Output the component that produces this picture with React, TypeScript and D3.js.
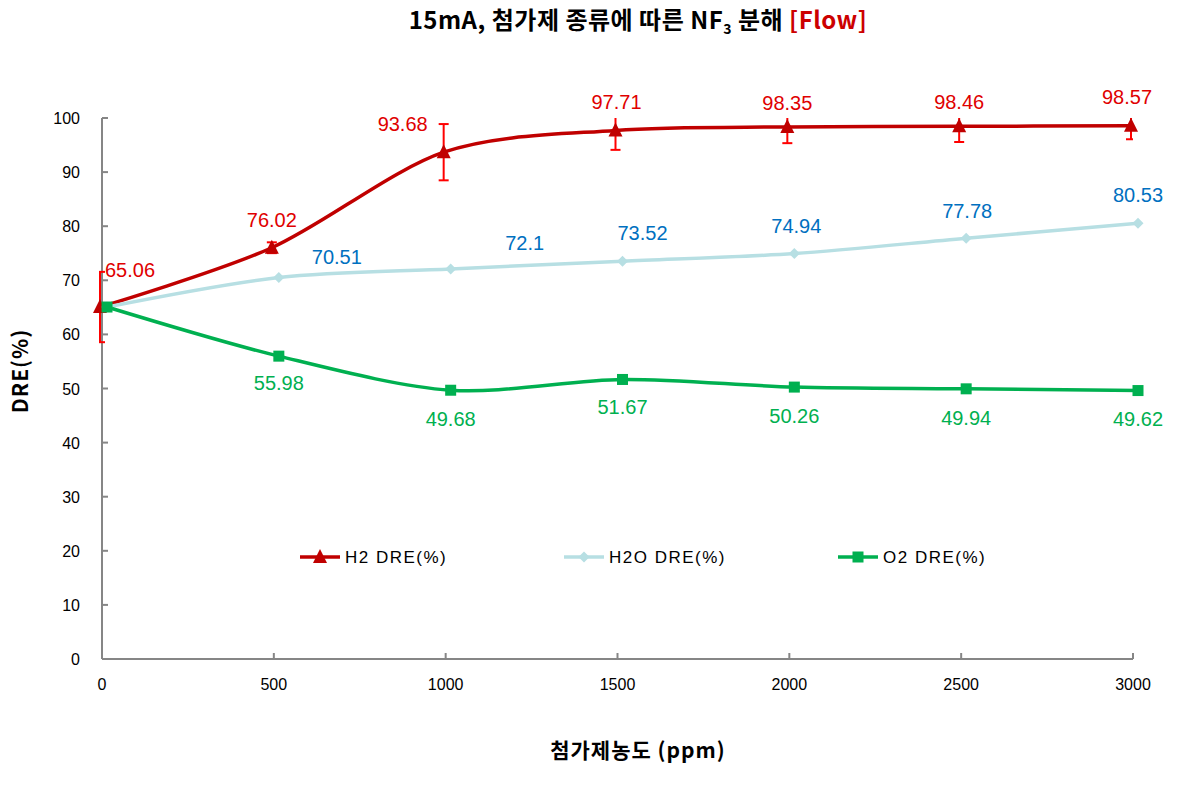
import React from "react";
import * as d3 from "d3";

// ---- data ----
const xValues = [0, 500, 1000, 1500, 2000, 2500, 3000];
const h2Values = [65.06, 76.02, 93.68, 97.71, 98.35, 98.46, 98.57];
const h2Errors = [6.5, 1.0, 5.2, 3.6, 3.0, 2.9, 2.5];
const h2oValues = [65.06, 70.51, 72.1, 73.52, 74.94, 77.78, 80.53];
const o2Values = [65.06, 55.98, 49.68, 51.67, 50.26, 49.94, 49.62];
const xTicks = [0, 500, 1000, 1500, 2000, 2500, 3000];
const yTicks = [0, 10, 20, 30, 40, 50, 60, 70, 80, 90, 100];
const seriesNames = ["H2 DRE(%)", "H2O DRE(%)", "O2 DRE(%)"];

// ---- layout / style ----
const W = 1188, H = 786;
const L = 102, R = 1133, T = 118, B = 659;
const FONT = "'Liberation Sans', 'DejaVu Sans', 'Noto Sans CJK KR', sans-serif";
const KFONT = "'Noto Sans CJK KR', 'Liberation Sans', sans-serif";

const h2LabelOff: [number, number][] = [[30, -37], [0, -28], [-41, -28], [1, -28], [0, -24], [0, -24], [-4, -29]];
const h2oLabelOff: [number, number][] = [[0, 0], [58, -21], [74, -26], [20, -28], [2, -28], [1, -27], [0, -28]];
const o2LabelOff: [number, number][] = [[0, 0], [0, 27], [0, 29], [0, 28], [0, 29], [0, 29], [0, 28]];

export default function App() {
  const x = d3.scaleLinear().domain([0, 3000]).range([L, R]);
  const y = d3.scaleLinear().domain([0, 100]).range([B, T]);
  const curve = d3.curveCardinal.tension(0.1);

  const mk = (vals: number[], dx: number) =>
    d3.line<number>().x((_, i) => x(xValues[i]) + dx).y((v) => y(v)).curve(curve)(vals) || "";

  const series = [
    { name: seriesNames[0], vals: h2Values, dx: -2, color: "#C00000", label: "#E00000", off: h2LabelOff, marker: "tri", skipFirstLabel: false },
    { name: seriesNames[1], vals: h2oValues, dx: 5, color: "#B7DFE3", label: "#0070C0", off: h2oLabelOff, marker: "dia", skipFirstLabel: true },
    { name: seriesNames[2], vals: o2Values, dx: 5, color: "#00B050", label: "#00B050", off: o2LabelOff, marker: "sq", skipFirstLabel: true },
  ];

  const marker = (type: string, cx: number, cy: number, color: string, key: any) => {
    if (type === "tri") {
      const s = 7;
      return <path key={key} d={`M${cx},${cy - s - 1}L${cx + s},${cy + s - 1}L${cx - s},${cy + s - 1}Z`} fill={color} />;
    }
    if (type === "dia") {
      const s = 5.5;
      return <path key={key} d={`M${cx},${cy - s}L${cx + s},${cy}L${cx},${cy + s}L${cx - s},${cy}Z`} fill={color} />;
    }
    const s = 5.5;
    return <rect key={key} x={cx - s} y={cy - s} width={2 * s} height={2 * s} fill={color} />;
  };

  const legendX = [300, 564, 838];
  const legendY = 557;

  return (
    <svg width={W} height={H} style={{ position: "absolute", left: 0, top: 0, background: "#fff" }} fontFamily={FONT}>
      <defs>
        <clipPath id="plot">
          <rect x={L - 3} y={T} width={R - L + 3} height={B - T} />
        </clipPath>
      </defs>

      {/* title */}
      <text x={638} y={29} textAnchor="middle" fontFamily={KFONT} fontWeight="bold" fontSize={24} fill="#000" letterSpacing={0.5}>
        15mA, 첨가제 종류에 따른 NF<tspan fontSize={14} dy={5}>3</tspan>
        <tspan dy={-5}> 분해 </tspan>
        <tspan fill="#CC0000">[Flow]</tspan>
      </text>

      {/* axes */}
      <line x1={L} y1={T} x2={L} y2={B} stroke="#868686" strokeWidth={2} />
      <line x1={L} y1={B} x2={R} y2={B} stroke="#868686" strokeWidth={2} />
      {yTicks.map((t) => (
        <g key={"y" + t}>
          <line x1={L} x2={L + 6} y1={y(t)} y2={y(t)} stroke="#868686" strokeWidth={2} />
          <text x={80} y={y(t) + 6} textAnchor="end" fontSize={16} fill="#000">{t}</text>
        </g>
      ))}
      {xTicks.map((t) => (
        <g key={"x" + t}>
          <line x1={x(t)} x2={x(t)} y1={B} y2={B - 6} stroke="#868686" strokeWidth={2} />
          <text x={x(t)} y={690} textAnchor="middle" fontSize={16} fill="#000">{t}</text>
        </g>
      ))}

      {/* axis titles */}
      <text transform={`translate(28,371) rotate(-90)`} textAnchor="middle" fontWeight="bold" fontSize={21} fontFamily={KFONT} letterSpacing={1}>DRE(%)</text>
      <text x={638} y={758} textAnchor="middle" fontWeight="bold" fontSize={21} fontFamily={KFONT} letterSpacing={1}>첨가제농도 (ppm)</text>

      {/* lines */}
      {series.map((s) => (
        <path key={s.name} d={mk(s.vals, s.dx)} fill="none" stroke={s.color} strokeWidth={3.5} />
      ))}

      {/* error bars */}
      <g clipPath="url(#plot)" stroke="#FF0000" strokeWidth={2}>
        {h2Values.map((v, i) => {
          const cx = x(xValues[i]) + series[0].dx;
          const y1 = y(v + h2Errors[i]);
          const y2 = y(v - h2Errors[i]);
          return (
            <g key={"e" + i}>
              <line x1={cx} x2={cx} y1={y1} y2={y2} />
              <line x1={cx - 5} x2={cx + 5} y1={y1} y2={y1} />
              <line x1={cx - 5} x2={cx + 5} y1={y2} y2={y2} />
            </g>
          );
        })}
      </g>

      {/* markers */}
      {series.map((s) => s.vals.map((v, i) => marker(s.marker, x(xValues[i]) + s.dx, y(v), s.color, s.name + i)))}

      {/* data labels */}
      {series.map((s) =>
        s.vals.map((v, i) => {
          if (i === 0 && s.skipFirstLabel) return null;
          const cx = x(xValues[i]) + s.dx + s.off[i][0];
          const cy = y(v) + s.off[i][1];
          return (
            <text key={"l" + s.name + i} x={cx} y={cy + 7} textAnchor="middle" fontSize={20} fill={s.label}>
              {String(v)}
            </text>
          );
        })
      )}

      {/* legend */}
      {series.map((s, k) => (
        <g key={"lg" + k}>
          <line x1={legendX[k]} x2={legendX[k] + 40} y1={legendY} y2={legendY} stroke={s.color} strokeWidth={3.5} />
          {marker(s.marker, legendX[k] + 20, legendY, s.color, "lm" + k)}
          <text x={legendX[k] + 45} y={legendY + 6} fontSize={17} fill="#000" letterSpacing={1.5}>{s.name}</text>
        </g>
      ))}
    </svg>
  );
}
